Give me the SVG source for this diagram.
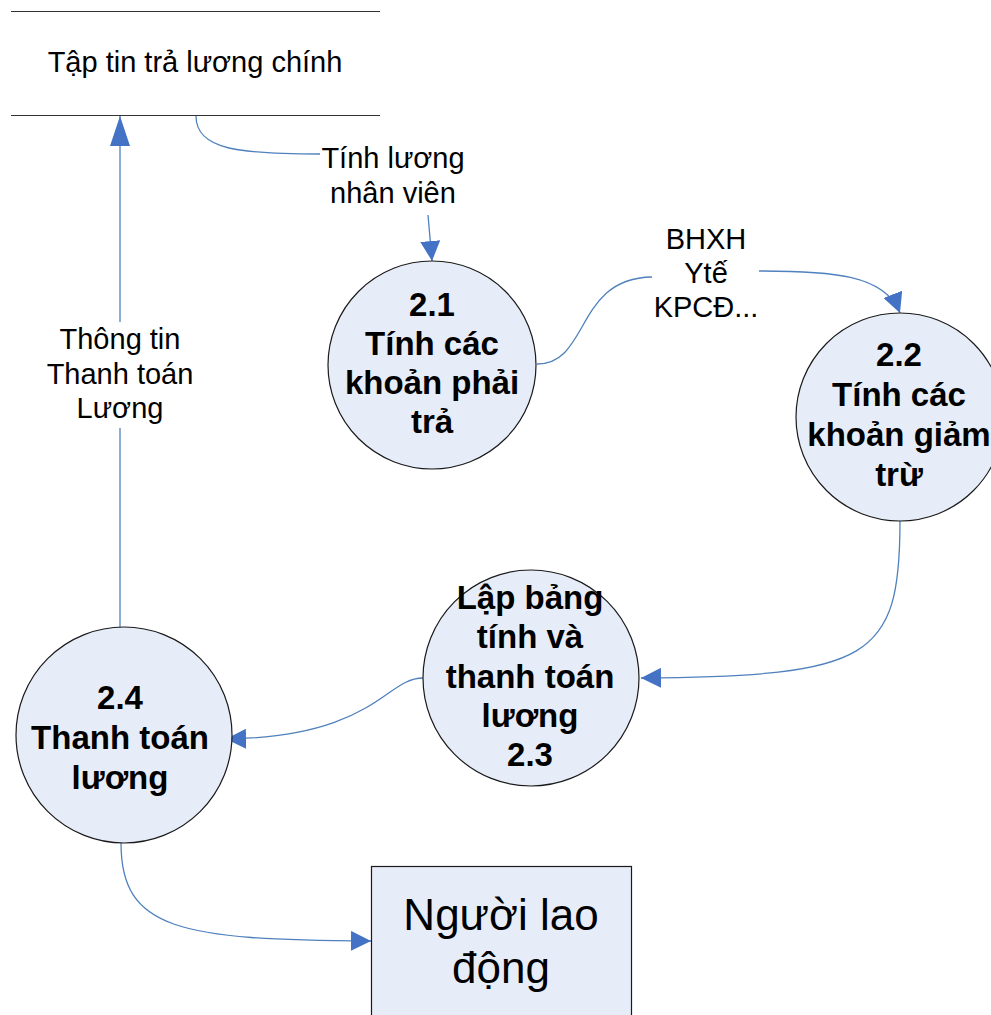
<svg xmlns="http://www.w3.org/2000/svg" width="991" height="1015" viewBox="0 0 991 1015">
  <style>
    .proc { fill: #E7EDF8; stroke: #1a1a1a; stroke-width: 1.2; }
    .ptxt { font-family: "Liberation Sans", Arial, sans-serif; font-weight: bold; font-size: 33px; fill: #000; text-anchor: middle; }
    .lbl { font-family: "Liberation Sans", Arial, sans-serif; font-size: 29px; fill: #000; text-anchor: middle; }
    .big { font-size: 44px; }
    .flow { fill: none; stroke: #4F81BD; stroke-width: 1.3; }
    .store { stroke: #333; stroke-width: 1.2; }
  </style>
  <defs>
    <marker id="arrow" markerUnits="userSpaceOnUse" markerWidth="20" markerHeight="20" refX="20" refY="10" orient="auto">
      <path d="M0,0 L20,10 L0,20 Z" fill="#4472C4"/>
    </marker>
    <marker id="arrowLong" markerUnits="userSpaceOnUse" markerWidth="30" markerHeight="20" refX="30" refY="10" orient="auto">
      <path d="M0,0 L30,10 L0,20 Z" fill="#4472C4"/>
    </marker>
  </defs>

  <rect width="991" height="1015" fill="#fff"/>

  <!-- data store -->
  <g id="store-main">
    <line class="store" x1="11" y1="11.5" x2="380" y2="11.5"/>
    <line class="store" x1="11" y1="115.5" x2="380" y2="115.5"/>
    <text class="lbl" x="195" y="72">Tập tin trả lương chính</text>
  </g>

  <!-- data flows -->
  <g id="connectors">
    <path class="flow" d="M196,116 C196,150 240,154 320,154"/>
    <path class="flow" d="M428,215 L432,261" marker-end="url(#arrow)"/>
    <path class="flow" d="M537,364 C590,364 575,278 652,277"/>
    <path class="flow" d="M759,271 C830,271 885,274 900,313" marker-end="url(#arrow)"/>
    <path class="flow" d="M900,521 C900,660 870,676 641,678" marker-end="url(#arrow)"/>
    <path class="flow" d="M423,678 C385,678 375,737 226,739" marker-end="url(#arrow)"/>
    <path class="flow" d="M121,843 C121,930 180,940 371,941" marker-end="url(#arrow)"/>
    <path class="flow" d="M120,628 L120,428"/>
    <path class="flow" d="M120,322 L120,116" marker-end="url(#arrowLong)"/>

    <text class="lbl" x="393" y="168">Tính lương</text>
    <text class="lbl" x="393" y="203">nhân viên</text>

    <text class="lbl" x="706" y="249">BHXH</text>
    <text class="lbl" x="706" y="283">Ytế</text>
    <text class="lbl" x="706" y="317">KPCĐ...</text>

    <text class="lbl" x="120" y="349">Thông tin</text>
    <text class="lbl" x="120" y="384">Thanh toán</text>
    <text class="lbl" x="120" y="418">Lương</text>
  </g>

  <g id="p21">
    <circle class="proc" cx="432" cy="365" r="104"/>
    <text class="ptxt" x="432" y="316">2.1</text>
    <text class="ptxt" x="432" y="355">Tính các</text>
    <text class="ptxt" x="432" y="394">khoản phải</text>
    <text class="ptxt" x="432" y="433">trả</text>
  </g>

  <g id="p22">
    <circle class="proc" cx="900" cy="417" r="104"/>
    <text class="ptxt" x="899" y="366">2.2</text>
    <text class="ptxt" x="899" y="406">Tính các</text>
    <text class="ptxt" x="899" y="446">khoản giảm</text>
    <text class="ptxt" x="899" y="486">trừ</text>
  </g>

  <g id="p23">
    <circle class="proc" cx="531" cy="678" r="108"/>
    <text class="ptxt" x="530" y="609">Lập bảng</text>
    <text class="ptxt" x="530" y="648">tính và</text>
    <text class="ptxt" x="530" y="688">thanh toán</text>
    <text class="ptxt" x="530" y="727">lương</text>
    <text class="ptxt" x="530" y="766">2.3</text>
  </g>

  <g id="p24">
    <circle class="proc" cx="124" cy="735" r="108"/>
    <text class="ptxt" x="120" y="709">2.4</text>
    <text class="ptxt" x="120" y="749">Thanh toán</text>
    <text class="ptxt" x="120" y="789">lương</text>
  </g>

  <g id="worker">
    <rect class="proc" x="371.5" y="866.5" width="260" height="160"/>
    <text class="lbl big" x="501" y="930">Người lao</text>
    <text class="lbl big" x="501" y="983">động</text>
  </g>
</svg>
